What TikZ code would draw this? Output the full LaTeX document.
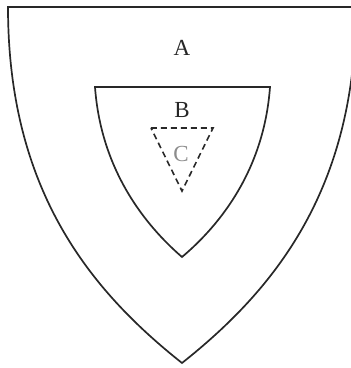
\documentclass[tikz,border=0pt]{standalone}
\usepackage{fontspec}
\setmainfont{Liberation Serif}
\usepackage{tikz}
\usetikzlibrary{positioning}
\definecolor{linegray}{RGB}{40,40,40}

\begin{document}
\begin{tikzpicture}[
        x=1pt, y=-1pt,
        shield/.style={draw=linegray, line width=1.7pt, line join=miter},
        zone/.style={draw=linegray, line width=1.6pt, dash pattern=on 6pt off 4pt},
        lbl/.style={font=\fontsize{23}{25}\selectfont, text=black!85, inner sep=0pt}
    ]
        \clip (0,0) rectangle (351,368);

        % Outer shield
        \draw[shield] (182,363) .. controls (90,290) and (8,190) .. (8,7)
            -- (356,7) .. controls (356,190) and (274,290) .. cycle;

        % Inner shield
        \draw[shield] (182,257) .. controls (145,225) and (101,170) .. (95,87)
            -- (270,87) .. controls (264,170) and (220,225) .. cycle;

        % Dashed triangle
        \draw[zone] (151,128) -- (213,128) -- (182,191) -- cycle;

        % Labels
        \node[lbl] (la) at (182,48)  {A};
        \node[lbl] (lb) at (182,110) {B};
        \node[lbl, text=black!45] (lc) at (181,154) {C};
    \end{tikzpicture}
\end{document}
